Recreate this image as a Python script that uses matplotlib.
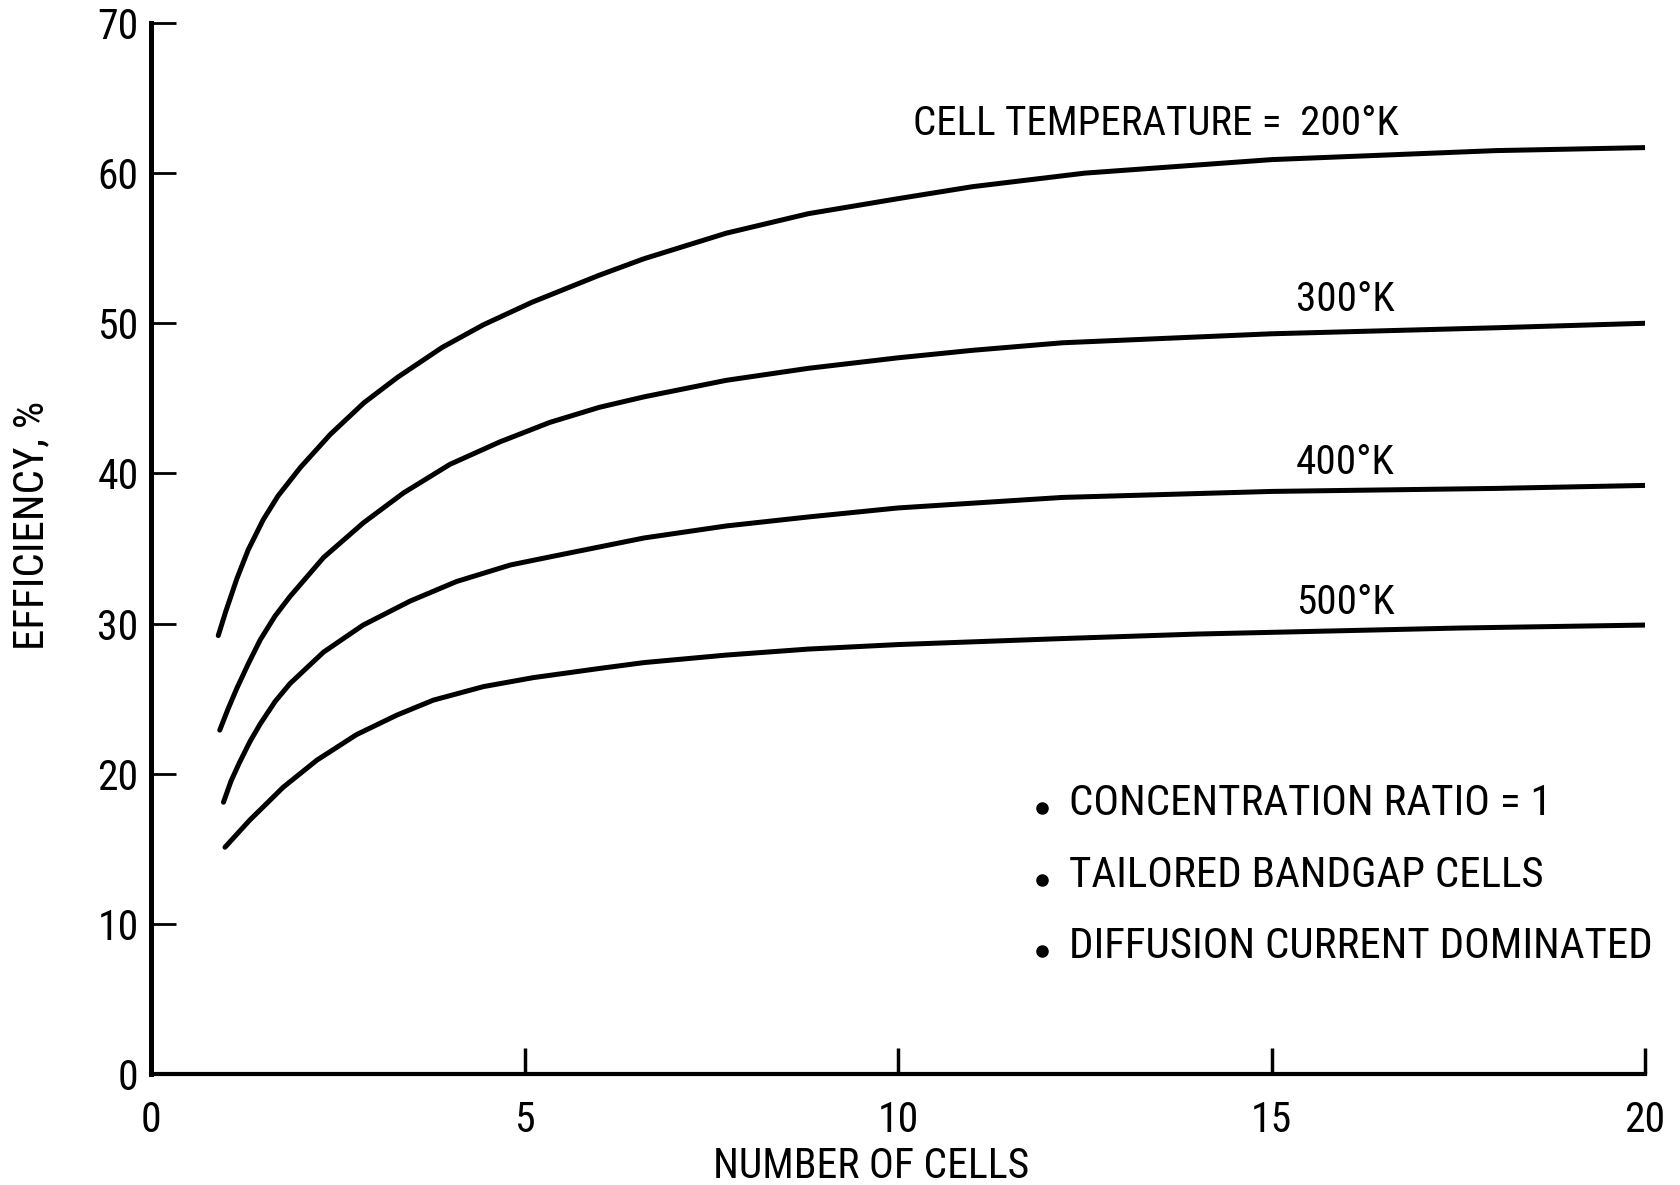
from matplotlib import pyplot as plt
import matplotlib.font_manager as fm

# values
x_200 = [0.9, 1.0, 1.15, 1.3, 1.5, 1.7, 2.0, 2.4, 2.85, 3.3, 3.9, 4.45, 5.1, 6.0, 6.6, 7.7, 8.8, 10, 11, 12.5, 15, 18, 20]
y_200 = [29.2, 30.8, 33.0, 34.9, 36.9, 38.5, 40.4, 42.6, 44.7, 46.4, 48.4, 49.9, 51.4, 53.2, 54.3, 56.0, 57.3, 58.3, 59.1, 60.0, 60.9, 61.5, 61.7]

x_300 = [0.92, 1.03, 1.15, 1.3, 1.46, 1.66, 1.86, 2.31, 2.84, 3.38, 4.0, 4.67, 5.34, 6.0, 6.6, 7.7, 8.8, 10, 11, 12.2, 15, 18, 20]
y_300 = [22.9, 24.3, 25.7, 27.3, 28.9, 30.5, 31.8, 34.4, 36.7, 38.7, 40.6, 42.1, 43.4, 44.4, 45.1, 46.2, 47.0, 47.7, 48.2, 48.7, 49.3, 49.7, 50.0]

x_400 = [0.97, 1.07, 1.18, 1.32, 1.46, 1.66, 1.86, 2.31, 2.84, 3.47, 4.09, 4.81, 5.4, 6.0, 6.6, 7.7, 8.8, 10, 12.2, 15, 18, 20]
y_400 = [18.1, 19.5, 20.7, 22.1, 23.3, 24.8, 26.0, 28.1, 29.9, 31.5, 32.8, 33.9, 34.5, 35.1, 35.7, 36.5, 37.1, 37.7, 38.4, 38.8, 39.0, 39.2]

x_500 = [0.99, 1.32, 1.77, 2.22, 2.75, 3.29, 3.78, 4.45, 5.12, 5.99, 6.6, 7.7, 8.8, 10, 12.2, 14, 17.5, 20]
y_500 = [15.1, 16.9, 19.1, 20.9, 22.6, 23.9, 24.9, 25.8, 26.4, 27.0, 27.4, 27.9, 28.3, 28.6, 29.0, 29.3, 29.7, 29.9]

curve_labels = ["CELL TEMPERATURE =  200°K", "300°K", "400°K", "500°K"]
label_pos = [(10.2, 63.3), (15.33, 51.6), (15.33, 40.7), (15.33, 31.4)]

notes = ["CONCENTRATION RATIO = 1", "TAILORED BANDGAP CELLS", "DIFFUSION CURRENT DOMINATED"]
note_y = [18.0, 13.2, 8.5]

x_ticks = [0, 5, 10, 15, 20]
y_ticks = [0, 10, 20, 30, 40, 50, 60, 70]

# the scan uses a narrow lettering, pick a condensed face if one is installed
narrow = None
wanted = ['liberationsansnarrow-regular', 'robotocondensed-regular', 'dejavusanscondensed.ttf',
          'notosans-condensed.ttf', 'opensans-condensed', 'condensed-regular', 'narrow-regular']
files = [f.fname for f in fm.fontManager.ttflist]
for key in wanted:
    hits = [p for p in files if key in p.lower().replace(' ', '').replace('_', '-')]
    if hits:
        narrow = hits[0]
        break
if narrow is None:
    for f in fm.fontManager.ttflist:
        low = f.fname.lower()
        if ('condensed' in low or 'narrow' in low) and 'bold' not in low and 'italic' not in low \
                and 'light' not in low and 'semi' not in low and 'extra' not in low and 'thin' not in low:
            narrow = f.fname
            break

if narrow:
    fp = fm.FontProperties(fname=narrow)
    scale = 1.0
else:
    fp = fm.FontProperties(family='Roboto')
    scale = 0.85

def font(size):
    p = fp.copy()
    p.set_size(size * scale)
    return p

fig = plt.figure(figsize=(16.8, 11.85), dpi=100)
ax = fig.add_axes([0.0899, 0.0937, 0.8893, 0.8869])

for xs, ys in [(x_200, y_200), (x_300, y_300), (x_400, y_400), (x_500, y_500)]:
    ax.plot(xs, ys, color='black', lw=3.6, solid_capstyle='round', solid_joinstyle='round')

for txt, (tx, ty) in zip(curve_labels, label_pos):
    ax.text(tx, ty, txt, fontproperties=font(29.5), ha='left', va='center')

for txt, ny in zip(notes, note_y):
    ax.plot(11.93, ny - 0.3, 'o', color='black', ms=8)
    ax.text(12.29, ny, txt, fontproperties=font(31), ha='left', va='center')

ax.set_xlim(0, 20)
ax.set_ylim(0, 70)
ax.set_xticks(x_ticks)
ax.set_yticks(y_ticks)
ax.spines['top'].set_visible(False)
ax.spines['right'].set_visible(False)
ax.spines['left'].set_linewidth(3.6)
ax.spines['bottom'].set_linewidth(3.0)
ax.tick_params(axis='y', direction='in', length=18, width=2, pad=9)
ax.tick_params(axis='x', direction='in', length=19, width=2.5, pad=19)
for lab in ax.get_yticklabels() + ax.get_xticklabels():
    lab.set_fontproperties(font(30))

fig.text(0.019, 0.557, "EFFICIENCY, %", rotation=90, fontproperties=font(31), ha='center', va='center')
fig.text(0.5185, 0.006, "NUMBER OF CELLS", fontproperties=font(30), ha='center', va='baseline')

plt.savefig("out.png", dpi=100)
